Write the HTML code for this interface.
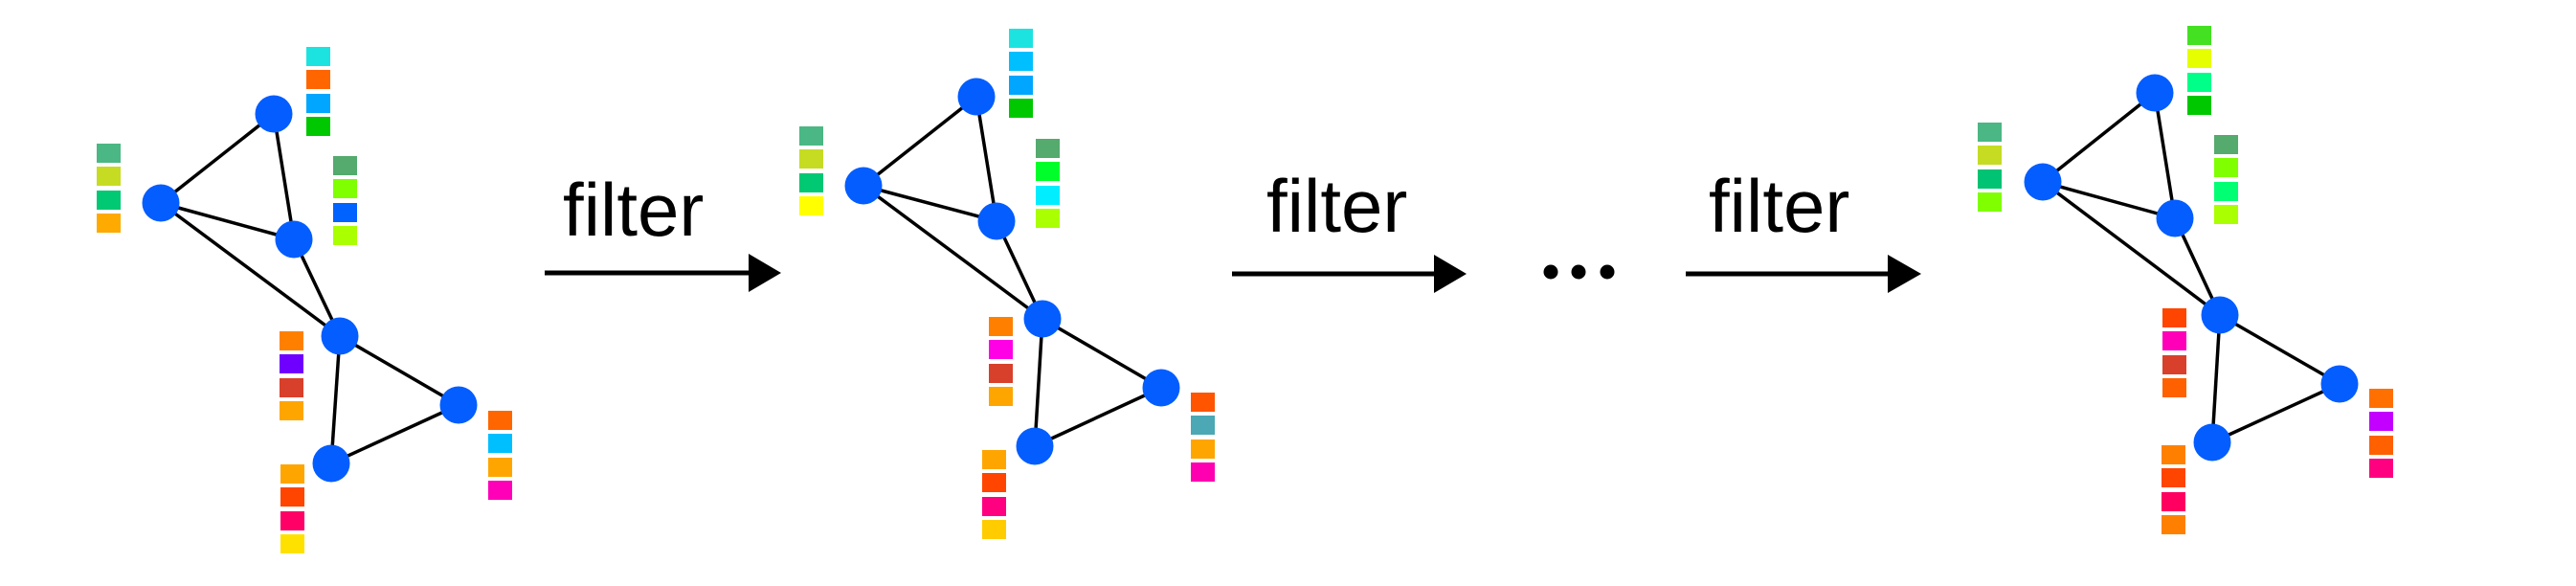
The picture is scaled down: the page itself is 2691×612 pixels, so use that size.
<!DOCTYPE html>
<html><head><meta charset="utf-8"><style>
html,body{margin:0;padding:0;background:#fff;}
svg{display:block;}
text{font-family:"Liberation Sans",sans-serif;font-size:78px;fill:#000;}
</style></head><body>
<svg width="2691" height="612" viewBox="0 0 2691 612" xmlns="http://www.w3.org/2000/svg">
<rect width="2691" height="612" fill="#fff"/>
<!-- Graph 1 -->
<g stroke="#000" stroke-width="3.5">
<line x1="286" y1="119" x2="168" y2="212"/><line x1="286" y1="119" x2="307" y2="250"/>
<line x1="168" y1="212" x2="307" y2="250"/><line x1="168" y1="212" x2="355" y2="351"/>
<line x1="307" y1="250" x2="355" y2="351"/><line x1="355" y1="351" x2="479" y2="423"/>
<line x1="355" y1="351" x2="346" y2="484"/><line x1="479" y1="423" x2="346" y2="484"/>
</g>
<g fill="#035dff">
<circle cx="286" cy="119" r="19.5"/><circle cx="168" cy="212" r="19.5"/><circle cx="307" cy="250" r="19.5"/>
<circle cx="355" cy="351" r="19.5"/><circle cx="479" cy="423" r="19.5"/><circle cx="346" cy="484" r="19.5"/>
</g>
<g>
<rect x="320" y="49" width="25" height="20" fill="#1de3e0"/><rect x="320" y="73" width="25" height="20" fill="#ff6600"/><rect x="320" y="98" width="25" height="20" fill="#00a6ff"/><rect x="320" y="122" width="25" height="20" fill="#00c800"/>
<rect x="101" y="150" width="25" height="20" fill="#4bb784"/><rect x="101" y="174" width="25" height="20" fill="#c5dc23"/><rect x="101" y="199" width="25" height="20" fill="#00c873"/><rect x="101" y="223" width="25" height="20" fill="#ffaa00"/>
<rect x="348" y="163" width="25" height="20" fill="#55aa6e"/><rect x="348" y="187" width="25" height="20" fill="#7fff00"/><rect x="348" y="212" width="25" height="20" fill="#0062ff"/><rect x="348" y="236" width="25" height="20" fill="#aaff00"/>
<rect x="292" y="346" width="25" height="20" fill="#ff8000"/><rect x="292" y="370" width="25" height="20" fill="#6f00ff"/><rect x="292" y="395" width="25" height="20" fill="#d9402b"/><rect x="292" y="419" width="25" height="20" fill="#ffa500"/>
<rect x="510" y="429" width="25" height="20" fill="#ff6600"/><rect x="510" y="453" width="25" height="20" fill="#00bfff"/><rect x="510" y="478" width="25" height="20" fill="#ffa500"/><rect x="510" y="502" width="25" height="20" fill="#ff00b8"/>
<rect x="293" y="485" width="25" height="20" fill="#ffa500"/><rect x="293" y="509" width="25" height="20" fill="#ff4500"/><rect x="293" y="534" width="25" height="20" fill="#ff0066"/><rect x="293" y="558" width="25" height="20" fill="#ffe100"/>
</g>
<!-- Arrow 1 -->
<text x="588" y="246">filter</text>
<line x1="569" y1="285" x2="786" y2="285" stroke="#000" stroke-width="5"/>
<polygon points="782,265 816,285 782,305" fill="#000"/>
<!-- Graph 2 -->
<g stroke="#000" stroke-width="3.5">
<line x1="1020" y1="101" x2="902" y2="194"/><line x1="1020" y1="101" x2="1041" y2="231"/>
<line x1="902" y1="194" x2="1041" y2="231"/><line x1="902" y1="194" x2="1089" y2="333"/>
<line x1="1041" y1="231" x2="1089" y2="333"/><line x1="1089" y1="333" x2="1213" y2="405"/>
<line x1="1089" y1="333" x2="1081" y2="466"/><line x1="1213" y1="405" x2="1081" y2="466"/>
</g>
<g fill="#035dff">
<circle cx="1020" cy="101" r="19.5"/><circle cx="902" cy="194" r="19.5"/><circle cx="1041" cy="231" r="19.5"/>
<circle cx="1089" cy="333" r="19.5"/><circle cx="1213" cy="405" r="19.5"/><circle cx="1081" cy="466" r="19.5"/>
</g>
<g>
<rect x="1054" y="30" width="25" height="20" fill="#1de3e0"/><rect x="1054" y="54" width="25" height="20" fill="#00bfff"/><rect x="1054" y="79" width="25" height="20" fill="#00a6ff"/><rect x="1054" y="103" width="25" height="20" fill="#00c800"/>
<rect x="835" y="132" width="25" height="20" fill="#4bb784"/><rect x="835" y="156" width="25" height="20" fill="#c5dc23"/><rect x="835" y="181" width="25" height="20" fill="#00c873"/><rect x="835" y="205" width="25" height="20" fill="#ffff00"/>
<rect x="1082" y="145" width="25" height="20" fill="#55aa6e"/><rect x="1082" y="169" width="25" height="20" fill="#00ff2a"/><rect x="1082" y="194" width="25" height="20" fill="#00eeff"/><rect x="1082" y="218" width="25" height="20" fill="#aaff00"/>
<rect x="1033" y="331" width="25" height="20" fill="#ff8000"/><rect x="1033" y="355" width="25" height="20" fill="#ff00e6"/><rect x="1033" y="380" width="25" height="20" fill="#d9402b"/><rect x="1033" y="404" width="25" height="20" fill="#ffa500"/>
<rect x="1244" y="410" width="25" height="20" fill="#ff5500"/><rect x="1244" y="434" width="25" height="20" fill="#4ba8b4"/><rect x="1244" y="459" width="25" height="20" fill="#ffa500"/><rect x="1244" y="483" width="25" height="20" fill="#ff00b0"/>
<rect x="1026" y="470" width="25" height="20" fill="#ffa500"/><rect x="1026" y="494" width="25" height="20" fill="#ff4500"/><rect x="1026" y="519" width="25" height="20" fill="#ff0080"/><rect x="1026" y="543" width="25" height="20" fill="#ffcc00"/>
</g>
<!-- Arrow 2 -->
<text x="1323" y="242">filter</text>
<line x1="1287" y1="286" x2="1502" y2="286" stroke="#000" stroke-width="5"/>
<polygon points="1498,266 1532,286 1498,306" fill="#000"/>
<circle cx="1620" cy="284" r="7.5"/><circle cx="1649" cy="284" r="7.5"/><circle cx="1679" cy="284" r="7.5"/>
<!-- Arrow 3 -->
<text x="1785" y="242">filter</text>
<line x1="1761" y1="286" x2="1976" y2="286" stroke="#000" stroke-width="5"/>
<polygon points="1972,266 2007,286 1972,306" fill="#000"/>
<!-- Graph 3 -->
<g stroke="#000" stroke-width="3.5">
<line x1="2251" y1="97" x2="2134" y2="190"/><line x1="2251" y1="97" x2="2272" y2="228"/>
<line x1="2134" y1="190" x2="2272" y2="228"/><line x1="2134" y1="190" x2="2319" y2="329"/>
<line x1="2272" y1="228" x2="2319" y2="329"/><line x1="2319" y1="329" x2="2444" y2="401"/>
<line x1="2319" y1="329" x2="2311" y2="462"/><line x1="2444" y1="401" x2="2311" y2="462"/>
</g>
<g fill="#035dff">
<circle cx="2251" cy="97" r="19.5"/><circle cx="2134" cy="190" r="19.5"/><circle cx="2272" cy="228" r="19.5"/>
<circle cx="2319" cy="329" r="19.5"/><circle cx="2444" cy="401" r="19.5"/><circle cx="2311" cy="462" r="19.5"/>
</g>
<g>
<rect x="2285" y="27" width="25" height="20" fill="#44e022"/><rect x="2285" y="51" width="25" height="20" fill="#e6ff00"/><rect x="2285" y="76" width="25" height="20" fill="#00ff88"/><rect x="2285" y="100" width="25" height="20" fill="#00c800"/>
<rect x="2066" y="128" width="25" height="20" fill="#4bb784"/><rect x="2066" y="152" width="25" height="20" fill="#c5dc23"/><rect x="2066" y="177" width="25" height="20" fill="#00c373"/><rect x="2066" y="201" width="25" height="20" fill="#7fff00"/>
<rect x="2313" y="141" width="25" height="20" fill="#55aa6e"/><rect x="2313" y="165" width="25" height="20" fill="#7fff00"/><rect x="2313" y="190" width="25" height="20" fill="#00ff73"/><rect x="2313" y="214" width="25" height="20" fill="#aaff00"/>
<rect x="2259" y="322" width="25" height="20" fill="#ff4500"/><rect x="2259" y="346" width="25" height="20" fill="#ff00b8"/><rect x="2259" y="371" width="25" height="20" fill="#d9402b"/><rect x="2259" y="395" width="25" height="20" fill="#ff6000"/>
<rect x="2475" y="406" width="25" height="20" fill="#ff7000"/><rect x="2475" y="430" width="25" height="20" fill="#c300ff"/><rect x="2475" y="455" width="25" height="20" fill="#ff6000"/><rect x="2475" y="479" width="25" height="20" fill="#ff0080"/>
<rect x="2258" y="465" width="25" height="20" fill="#ff8000"/><rect x="2258" y="489" width="25" height="20" fill="#ff4500"/><rect x="2258" y="514" width="25" height="20" fill="#ff0060"/><rect x="2258" y="538" width="25" height="20" fill="#ff8000"/>
</g>
</svg>
</body></html>
